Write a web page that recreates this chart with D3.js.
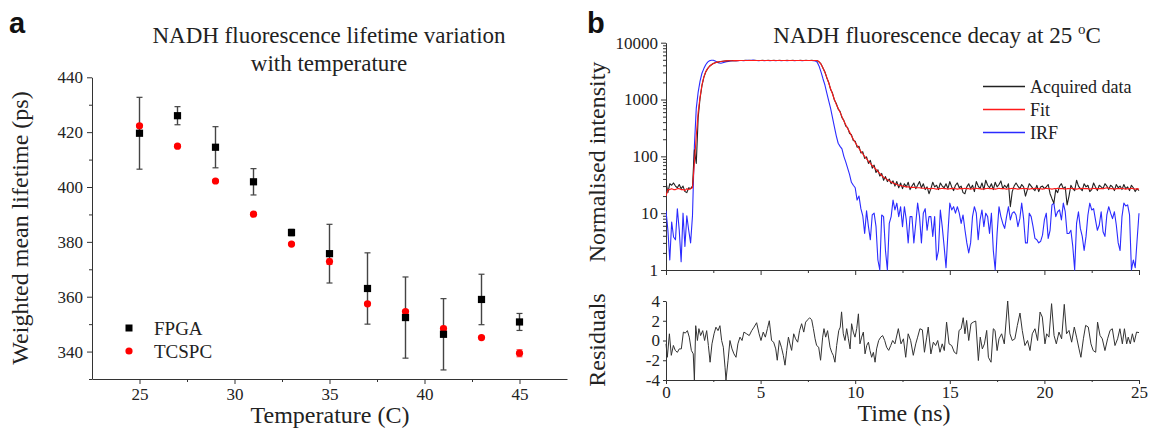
<!DOCTYPE html>
<html>
<head>
<meta charset="utf-8">
<script src="https://cdn.jsdelivr.net/npm/d3@7"></script>
<style>
  body { margin: 0; background: #fff; }
  svg { display: block; font-family: "Liberation Serif", "Times New Roman", serif; }
  .axis path, .axis line { stroke: #333; }
  .axis text { fill: #222; }
</style>
</head>
<body>
<svg id="chart" width="1149" height="433"></svg>
<script>
// ---------- panel a data ----------
let temperature = [25, 27, 29, 31, 33, 35, 37, 39, 41, 43, 45];
let fpgaLifetime = [419.6, 426.0, 414.5, 401.9, 383.4, 375.7, 363.0, 352.4, 346.3, 359.0, 350.8];
let fpgaErr = [13.1, 3.3, 7.5, 4.8, 1.2, 10.7, 13.0, 14.8, 13.0, 9.2, 3.1];
let tcspcLifetime = [422.3, 414.9, 402.2, 390.1, 379.2, 372.8, 357.4, 354.6, 348.4, 345.1, 339.4];
let tcspcErr = [0.6, 0.5, 0.5, 0.5, 0.5, 1.0, 0.6, 0.6, 0.8, 0.5, 1.3];
let tempTicks = [25, 30, 35, 40, 45];
let lifetimeTicks = [340, 360, 380, 400, 420, 440];

// ---------- panel b data (one value per 0.1 ns channel, 0 - 25 ns) ----------
let channelWidth = 0.1;
let acquired = [
  35, 23, 33, 31, 34, 30, 28, 32, 27, 30,
  24, 23, 28, 27, 30, 130, 75, 480, 1050, 1750,
  2450, 3050, 3500, 3850, 4100, 4300, 4450, 4550, 4600, 4680,
  4720, 4750, 4780, 4800, 4820, 4830, 4850, 4830, 4860, 4850,
  4870, 4850, 4880, 4860, 4900, 4870, 4850, 4880, 4860, 4870,
  4850, 4880, 4870, 4860, 4880, 4850, 4870, 4880, 4860, 4870,
  4880, 4860, 4870, 4850, 4880, 4870, 4860, 4880, 4870, 4850,
  4870, 4880, 4860, 4870, 4880, 4860, 4870, 4880, 4870, 4850,
  4800, 4550, 4200, 3550, 3050, 2400, 2000, 1500, 1300, 980,
  850, 680, 620, 480, 430, 340, 320, 255, 240, 190,
  185, 145, 150, 115, 120, 92, 98, 75, 85, 62,
  70, 52, 58, 45, 50, 38, 44, 36, 40, 33,
  37, 30, 36, 28, 34, 27, 33, 29, 35, 26,
  30, 34, 27, 31, 36, 28, 33, 26, 29, 22,
  27, 35, 29, 31, 26, 34, 30, 28, 33, 27,
  36, 29, 25, 31, 34, 28, 30, 23, 22, 29,
  33, 27, 31, 24, 36, 30, 27, 34, 26, 38,
  31, 28, 33, 26, 35, 29, 32, 37, 27, 31,
  28, 33, 13, 24, 30, 34, 30, 27, 32, 29,
  20, 26, 33, 30, 27, 25, 31, 24, 29, 30,
  27, 29, 32, 22, 18, 15, 26, 23, 30, 33,
  27, 29, 14, 20, 31, 27, 25, 38, 30, 27,
  25, 33, 29, 31, 24, 26, 34, 29, 25, 31,
  29, 27, 33, 30, 26, 31, 29, 25, 32, 28,
  30, 26, 32, 27, 29, 25, 31, 28, 24, 27,
  25
];
let fit = [
  20, 26, 26, 27, 26, 26, 27, 27, 26, 26,
  25, 27, 26, 27, 28, 75, 230, 600, 1100, 1800,
  2500, 3100, 3500, 3850, 4100, 4300, 4450, 4550, 4620, 4680,
  4720, 4750, 4780, 4800, 4810, 4820, 4830, 4840, 4840, 4850,
  4850, 4850, 4850, 4850, 4850, 4850, 4850, 4850, 4850, 4850,
  4850, 4850, 4850, 4850, 4850, 4850, 4850, 4850, 4850, 4850,
  4850, 4850, 4850, 4850, 4850, 4850, 4850, 4850, 4850, 4850,
  4850, 4850, 4850, 4850, 4850, 4850, 4850, 4850, 4850, 4850,
  4850, 4600, 4150, 3600, 3000, 2450, 1950, 1550, 1250, 1000,
  820, 700, 600, 500, 420, 360, 310, 270, 230, 200,
  175, 155, 138, 122, 110, 100, 90, 82, 75, 69,
  64, 59, 54, 50, 46, 43, 41, 39, 37, 35.5,
  34, 33, 32, 31, 30.5, 30, 29.5, 29, 29, 28.5,
  28.5, 28.5, 28, 28, 28, 27.5, 27.5, 27.5, 27.5, 27,
  27, 27.5, 27, 26.5, 27, 27, 27.5, 27, 27, 26.5,
  27, 27, 27.5, 27, 26.5, 27, 27, 27, 27.5, 27,
  27, 26.5, 27, 27, 27.5, 27, 27, 26.5, 27, 27,
  27.5, 27, 27, 27, 26.5, 27, 27.5, 27, 27, 27,
  26.5, 27, 27, 27.5, 27, 27, 26.5, 27, 27, 27.5,
  27, 27, 26.5, 27, 27, 27.5, 27, 27, 27, 26.5,
  27, 27.5, 27, 27, 26.5, 27, 27, 27.5, 27, 27,
  27, 26.5, 27, 27, 27.5, 27, 27, 26.5, 27, 27,
  27.5, 27, 27, 27, 26.5, 27, 27.5, 27, 27, 27,
  27, 27, 27.5, 28, 27.5, 27, 27, 26.5, 27, 27,
  27, 27.5, 27, 26.5, 27, 27, 27.5, 27, 26.5, 27,
  26.5
];
let irf = [
  11, 5, 1.5, 7, 3.8, 3.4, 12, 5, 1.4, 10,
  2.6, 9, 5, 3, 9, 150, 700, 1350, 2100, 2900,
  3500, 4100, 4550, 4800, 4900, 4900, 4750, 4550, 4400, 4350,
  4450, 4550, 4650, 4700, 4750, 4800, 4800, 4850, 4800, 4850,
  4850, 4800, 4850, 4900, 4850, 4900, 4950, 4850, 4850, 4800,
  4850, 4850, 4800, 4850, 4850, 4800, 4850, 4850, 4800, 4850,
  4850, 4800, 4850, 4850, 4800, 4850, 4850, 4850, 4800, 4850,
  4850, 4850, 4800, 4850, 4850, 4850, 4850, 4850, 4800, 4750,
  4500, 3800, 3000, 2300, 1800, 1300, 950, 700, 480, 330,
  230, 170, 150, 135, 100, 80, 62, 48, 35, 31,
  28, 17, 20, 12, 9, 4.4, 11, 5.8, 3.4, 9.3,
  10, 5.8, 1.5, 1, 9.3, 8.7, 2.2, 1, 6.6, 8.7,
  17, 11.4, 15, 8.7, 13, 5.8, 13, 7.6, 3, 8.7,
  8.7, 3, 6.6, 15, 8.7, 3, 10, 12, 5, 8.7,
  8.7, 3.9, 8.7, 1.5, 2.2, 11.4, 5.8, 2.6, 1.1, 4.4,
  15, 11.4, 13, 10, 13, 10, 6.6, 9.3, 5.1, 3,
  2, 3, 8.7, 13, 10, 3.4, 7.6, 11.4, 5.8, 10,
  8.7, 4.4, 10, 2.2, 1, 4.4, 13, 8.7, 6.6, 5.4,
  8.7, 13, 7.6, 10, 10.6, 9.3, 5.8, 8, 15, 8,
  3, 3, 10, 8.7, 5.8, 3.6, 3.4, 3, 3.2, 4.1,
  7.6, 10, 3.6, 5, 14, 15, 8.7, 10.6, 11.4, 7.6,
  15, 10.6, 4.4, 4.4, 5, 2.6, 1, 6.6, 10.6, 5.4,
  3.9, 2.2, 3.9, 9.3, 15, 11.4, 12, 7.6, 5, 6.2,
  10.6, 4.7, 3.9, 9.3, 13, 10, 8, 10.6, 6.2, 3,
  2.2, 8.7, 15, 13.4, 14, 9.3, 1, 1.5, 1.1, 3.4,
  10
];
let resTime = [
  0, 0.07, 0.18, 0.28, 0.39, 0.49, 0.6, 0.7, 0.81, 0.92, 1.02, 1.13, 1.23, 1.34, 1.44, 1.5, 1.57,
  1.66, 1.74, 1.83, 1.94, 2.04, 2.15, 2.24, 2.33, 2.43, 2.54, 2.64, 2.75, 2.85, 2.94, 3.03, 3.12,
  3.17, 3.28, 3.38, 3.49, 3.59, 3.7, 3.8, 3.91, 4.02, 4.12, 4.26, 4.4, 4.53, 4.65, 4.79, 4.92,
  5.02, 5.14, 5.25, 5.36, 5.46, 5.58, 5.69, 5.8, 5.88, 5.99, 6.1, 6.2, 6.29, 6.38, 6.47, 6.55,
  6.64, 6.75, 6.85, 6.96, 7.06, 7.17, 7.28, 7.38, 7.49, 7.59, 7.7, 7.79, 7.88, 7.96, 8.07, 8.17,
  8.28, 8.35, 8.44, 8.54, 8.67, 8.76, 8.84, 8.93, 9.02, 9.13, 9.21, 9.28, 9.37, 9.46, 9.55, 9.64,
  9.73, 9.81, 9.9, 9.99, 10.08, 10.17, 10.25, 10.34, 10.43, 10.52, 10.61, 10.7, 10.78, 10.87,
  10.96, 11.05, 11.13, 11.24, 11.35, 11.45, 11.56, 11.66, 11.77, 11.88, 11.98, 12.1, 12.28,
  12.42, 12.55, 12.67, 12.8, 12.93, 13.07, 13.2, 13.3, 13.42, 13.55, 13.66, 13.78, 13.86, 14.0,
  14.13, 14.25, 14.36, 14.48, 14.6, 14.71, 14.83, 14.96, 15.1, 15.24, 15.36, 15.49, 15.6, 15.71,
  15.8, 15.89, 16.0, 16.12, 16.24, 16.37, 16.51, 16.61, 16.72, 16.83, 16.95, 17.04, 17.18, 17.3,
  17.39, 17.5, 17.6, 17.74, 17.88, 18.06, 18.18, 18.3, 18.44, 18.57, 18.71, 18.83, 18.97, 19.11,
  19.24, 19.36, 19.5, 19.64, 19.77, 19.89, 20.03, 20.12, 20.24, 20.38, 20.51, 20.63, 20.77,
  20.91, 21.05, 21.17, 21.3, 21.44, 21.58, 21.7, 21.83, 21.93, 22.06, 22.18, 22.32, 22.46, 22.58,
  22.71, 22.81, 22.94, 23.06, 23.2, 23.34, 23.47, 23.59, 23.73, 23.87, 23.99, 24.12, 24.23,
  24.35, 24.43, 24.54, 24.65, 24.75, 24.87, 25.0
];
let resValue = [
  -0.34, -1.7, 0.68, -1.5, -0.5, -1.0, -1.2, -0.85, -0.85, 0.85, 0.75, 1.0, 0.34, -1.0, -1.35, -4.0, 1.5,
  0, 1.2, 0.5, 1.0, 0, 1.0, -0.5, -2.2, -0.34, 0.68, 1.35, 1.0, 1.5, 0, -0.68, -2.7,
  -4.0, -2.0, 0, -0.85, -1.35, -1.7, -0.34, 0.34, 0, 0.85, 0.68, 0.5, 1.0, 1.35, 1.8, 0.68,
  0, 0.85, 0.34, 1.2, 2.0, 0, -0.17, -0.85, -2.0, 0, -0.68, -1.5, -2.5, -1.0, 0.34, -0.34,
  -1.0, 0.68, 0.17, -0.17, 1.0, 1.7, 0.85, 1.86, 2.1, 2.3, 2.1, 1.2, 0.17, -0.5, -0.68, -2.0,
  0.34, 1.2, 0.34, 1.0, -0.68, -1.2, -1.5, -2.2, -0.5, 1.0, 1.35, 2.9, 0.68, 0, 1.2, 0.17,
  -0.85, 1.7, 0.85, 0.34, 1.2, 2.7, -0.34, 0.34, 0.85, -1.35, -0.5, -0.17, -1.0, -1.7,
  -1.2, -2.2, -0.85, 0, 0.34, 0.5, 0, -0.68, -1.0, -0.5, 0, -0.34, 1.2,
  -0.34, 0.17, -1.7, 0.68, 0, -1.5, -0.34, 0.34, 1.19, 1.08, -1.19, 0.34, 1.36, -1.36,
  -0.17, -0.51, 0, -1.19, -0.34, -1.02, 1.86, -0.34, -0.51, -1.19, -1.36, 1.02, 1.19, 2.31,
  0.68, 2.03, 0, 1.7, 1.86, 1.97, -2.03, 0.34, -0.85, -0.34, 1.02, -1.7, -2.2, 1.19,
  1.02, -1.02, 0.17, 0.68, -0.34, 4.0, 0.68, 0, 0.17, 1.53, 2.78, 1.02, -0.51, 0,
  -1.02, 0.68, 1.19, 0, 2.88, 2.37, -0.34, 0.68, 0.34, 3.73, 0.51, -0.34, 0.85,
  0.17, 3.66, 0.68, 1.02, -0.17, 1.36, 0.34, -0.85, -1.7, 0.17, 1.53, 1.36, -0.34, -1.02,
  -1.19, 1.86, 0.51, 0.17, -1.02, 0.17, 1.02, 1.19, -0.51, 0.17, 1.19, -0.34, 1.19,
  -0.34, 0.34, -0.34, 0.68, -0.17, 0.85, 0.8
];
let intensityTicks = [1, 10, 100, 1000, 10000];
let timeTicks = [0, 5, 10, 15, 20, 25];
let residualTicks = [-4, -2, 0, 2, 4];
let legendNames = ['Acquired data', 'Fit', 'IRF'];
let seriesColors = ['#222222', '#ff1a1a', '#2b2bff'];

// ---------- setup ----------
let svg = d3.select('#chart');
let serif = '"Liberation Serif", "Times New Roman", serif';

function styleAxis(g, size) {
  g.attr('font-family', serif).attr('font-size', size);
  g.selectAll('text').attr('fill', '#222');
  return g;
}

// ================= panel a =================
let xA = d3.scaleLinear().domain([22.5, 47.5]).range([92, 567]);
let yA = d3.scaleLinear().domain([330, 440]).range([379, 77.3]);

styleAxis(svg.append('g').attr('class', 'axis').attr('transform', 'translate(0,379)')
  .call(d3.axisBottom(xA).tickValues(tempTicks).tickSize(5).tickSizeOuter(0).tickPadding(4)), 17);
svg.append('g').attr('class', 'axis').attr('transform', 'translate(0,379)')
  .call(d3.axisBottom(xA).tickValues([27.5, 32.5, 37.5, 42.5]).tickSize(3).tickFormat(''))
  .select('.domain').remove();

styleAxis(svg.append('g').attr('class', 'axis').attr('transform', 'translate(92,0)')
  .call(d3.axisLeft(yA).tickValues(lifetimeTicks).tickSize(5).tickSizeOuter(0).tickPadding(4)), 17);
svg.append('g').attr('class', 'axis').attr('transform', 'translate(92,0)')
  .call(d3.axisLeft(yA).tickValues([330, 350, 370, 390, 410, 430]).tickSize(3).tickFormat(''))
  .select('.domain').remove();

// error bars
let pointsA = temperature.map((t, i) => ({
  t: t, f: fpgaLifetime[i], fe: fpgaErr[i], c: tcspcLifetime[i], ce: tcspcErr[i]
}));

let errA = svg.append('g');
pointsA.forEach(function(d) {
  [[d.c, d.ce, '#ff6060'], [d.f, d.fe, '#444']].forEach(function(s) {
    let x = xA(d.t);
    errA.append('line').attr('x1', x).attr('x2', x)
      .attr('y1', yA(s[0] - s[1])).attr('y2', yA(s[0] + s[1]))
      .attr('stroke', s[2]).attr('stroke-width', 1.4);
    [s[0] - s[1], s[0] + s[1]].forEach(function(v) {
      errA.append('line').attr('x1', x - 3).attr('x2', x + 3)
        .attr('y1', yA(v)).attr('y2', yA(v))
        .attr('stroke', s[2]).attr('stroke-width', 1.2);
    });
  });
});

svg.append('g').selectAll('circle').data(pointsA).enter().append('circle')
  .attr('cx', d => xA(d.t)).attr('cy', d => yA(d.c)).attr('r', 3.6).attr('fill', '#ff0000');
svg.append('g').selectAll('rect').data(pointsA).enter().append('rect')
  .attr('x', d => xA(d.t) - 3.6).attr('y', d => yA(d.f) - 3.6)
  .attr('width', 7.2).attr('height', 7.2).attr('fill', '#000');

// legend a
svg.append('rect').attr('x', 125.5).attr('y', 324.5).attr('width', 7).attr('height', 7).attr('fill', '#000');
svg.append('text').attr('x', 154).attr('y', 334.5).attr('font-size', 19).attr('fill', '#222').text('FPGA');
svg.append('circle').attr('cx', 129).attr('cy', 351).attr('r', 3.6).attr('fill', '#ff0000');
svg.append('text').attr('x', 154).attr('y', 357.5).attr('font-size', 19).attr('fill', '#222').text('TCSPC');

// titles a
svg.append('text').attr('x', 329).attr('y', 43).attr('text-anchor', 'middle')
  .attr('font-size', 23).attr('fill', '#222').text('NADH fluorescence lifetime variation');
svg.append('text').attr('x', 329).attr('y', 71).attr('text-anchor', 'middle')
  .attr('font-size', 23).attr('fill', '#222').text('with temperature');
svg.append('text').attr('x', 330).attr('y', 423).attr('text-anchor', 'middle')
  .attr('font-size', 24).attr('fill', '#222').text('Temperature (C)');
svg.append('text').attr('transform', 'translate(28,' + 228 + ') rotate(-90)').attr('text-anchor', 'middle')
  .attr('font-size', 24).attr('fill', '#222').text('Weighted mean lifetime (ps)');

svg.append('text').attr('x', 9).attr('y', 33).attr('font-family', 'Liberation Sans, Arial, sans-serif')
  .attr('font-weight', 'bold').attr('font-size', 29).attr('fill', '#111').text('a');

// ================= panel b =================
let xB = d3.scaleLinear().domain([0, 25]).range([666, 1139]);
let yB = d3.scaleLog().domain([1, 10000]).range([270, 42.7]);
let yR = d3.scaleLinear().domain([-4, 4]).range([380, 301]);

// upper axes
styleAxis(svg.append('g').attr('class', 'axis').attr('transform', 'translate(666,0)')
  .call(d3.axisLeft(yB).tickValues(intensityTicks).tickFormat(d3.format('d'))
    .tickSize(5).tickSizeOuter(0).tickPadding(3)), 17);
let minorLog = [];
intensityTicks.slice(0, -1).forEach(function(dec) {
  [2, 3, 4, 5, 6, 7, 8, 9].forEach(m => minorLog.push(dec * m));
});
svg.append('g').attr('class', 'axis').attr('transform', 'translate(666,0)')
  .call(d3.axisLeft(yB).tickValues(minorLog).tickSize(3).tickFormat(''))
  .select('.domain').remove();

svg.append('g').attr('class', 'axis').attr('transform', 'translate(0,270)')
  .call(d3.axisBottom(xB).tickValues(timeTicks).tickSize(5).tickSizeOuter(0).tickFormat(''));
svg.append('g').attr('class', 'axis').attr('transform', 'translate(0,270)')
  .call(d3.axisBottom(xB).tickValues([2.5, 7.5, 12.5, 17.5, 22.5]).tickSize(3).tickFormat(''))
  .select('.domain').remove();

svg.append('clipPath').attr('id', 'clipB').append('rect')
  .attr('x', 666).attr('y', 38).attr('width', 474).attr('height', 233);

let decayLine = d3.line()
  .x((d, i) => xB(i * channelWidth))
  .y(d => yB(Math.max(1, d)));

let curves = svg.append('g').attr('clip-path', 'url(#clipB)');
[irf, acquired, fit].forEach(function(series) {
  let idx = series === acquired ? 0 : series === fit ? 1 : 2;
  curves.append('path').datum(series).attr('d', decayLine)
    .attr('fill', 'none').attr('stroke', seriesColors[idx]).attr('stroke-width', 1.1)
    .attr('stroke-linejoin', 'round');
});

// legend b
legendNames.forEach(function(name, i) {
  let y = 86.5 + i * 23;
  svg.append('line').attr('x1', 983).attr('x2', 1025).attr('y1', y).attr('y2', y)
    .attr('stroke', seriesColors[i]).attr('stroke-width', 1.3);
  svg.append('text').attr('x', 1030).attr('y', y + 6).attr('font-size', 18)
    .attr('fill', '#222').text(name);
});

// title b
let titleB = svg.append('text').attr('x', 937).attr('y', 43).attr('text-anchor', 'middle')
  .attr('font-size', 23).attr('fill', '#222');
titleB.append('tspan').text('NADH fluorescence decay at 25 ');
titleB.append('tspan').attr('font-size', 15).attr('dy', -9).text('o');
titleB.append('tspan').attr('dy', 9).text('C');

svg.append('text').attr('transform', 'translate(605,162) rotate(-90)').attr('text-anchor', 'middle')
  .attr('font-size', 24).attr('fill', '#222').text('Normalised intensity');

// residuals
styleAxis(svg.append('g').attr('class', 'axis').attr('transform', 'translate(666,0)')
  .call(d3.axisLeft(yR).tickValues(residualTicks).tickFormat(d => d < 0 ? '-' + (-d) : d)
    .tickSize(3).tickSizeOuter(0).tickPadding(3)), 17);
styleAxis(svg.append('g').attr('class', 'axis').attr('transform', 'translate(0,380)')
  .call(d3.axisBottom(xB).tickValues(timeTicks).tickSize(4).tickSizeOuter(0).tickPadding(2)), 17);
svg.append('g').attr('class', 'axis').attr('transform', 'translate(0,380)')
  .call(d3.axisBottom(xB).tickValues([2.5, 7.5, 12.5, 17.5, 22.5]).tickSize(2).tickFormat(''))
  .select('.domain').remove();

let resLine = d3.line()
  .x((d, i) => xB(resTime[i]))
  .y(d => yR(Math.max(-4, Math.min(4, d))));
svg.append('path').datum(resValue).attr('d', resLine)
  .attr('fill', 'none').attr('stroke', '#333').attr('stroke-width', 1);

svg.append('text').attr('transform', 'translate(605,340) rotate(-90)').attr('text-anchor', 'middle')
  .attr('font-size', 24).attr('fill', '#222').text('Residuals');
svg.append('text').attr('x', 904).attr('y', 421).attr('text-anchor', 'middle')
  .attr('font-size', 24).attr('fill', '#222').text('Time (ns)');

svg.append('text').attr('x', 587).attr('y', 33).attr('font-family', 'Liberation Sans, Arial, sans-serif')
  .attr('font-weight', 'bold').attr('font-size', 29).attr('fill', '#111').text('b');
</script>
</body>
</html>
